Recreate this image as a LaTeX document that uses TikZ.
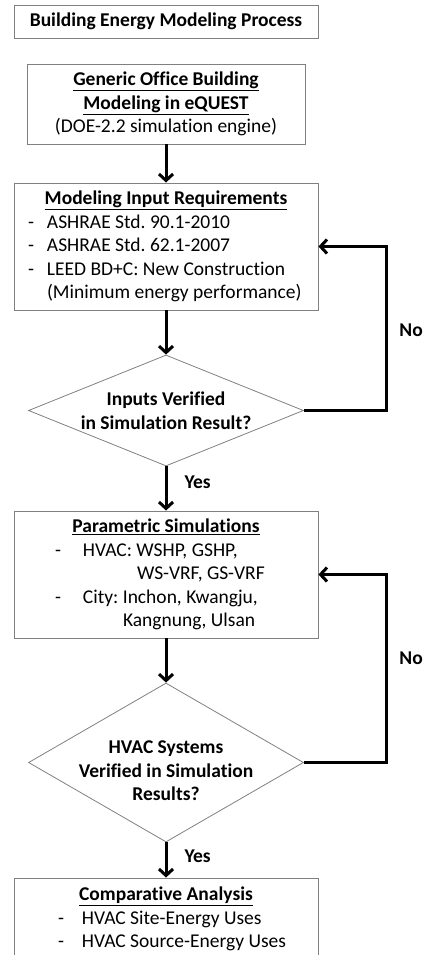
\documentclass[tikz,border=0pt]{standalone}
\usepackage{fontspec}
\setmainfont{Carlito}[Ligatures=NoCommon]
\usetikzlibrary{shapes.geometric,arrows.meta}

\newcommand{\nodefont}{\fontsize{19.5}{23.5}\selectfont\frenchspacing}
\newcommand{\hd}[1]{\underline{\textbf{#1}}}
\newcommand{\dashitem}[2]{\hspace*{#1}\makebox[#2][l]{-}}

\tikzset{
  block/.style={draw=gray, line width=0.9pt, rectangle, minimum width=304pt,
    inner sep=0pt, align=center, font=\nodefont},
  listblock/.style={block, text width=304pt, align=flush left},
  decision/.style={draw=gray, line width=0.8pt, diamond, minimum width=275pt,
    inner sep=-6pt, align=center, font=\nodefont\bfseries},
  flow/.style={line width=3pt, -{Straight Barb[length=6.5pt,width=14pt]}},
  answer/.style={font=\nodefont\bfseries, inner sep=0pt}
}

\begin{document}
\begin{tikzpicture}[x=1pt,y=-1pt]
    \useasboundingbox (0,0) rectangle (423,955);
    \clip (0,0) rectangle (423,955);

    % stages
    \node[block, minimum height=33pt, font=\nodefont\bfseries] (title) at (166,21.5)
      {Building Energy Modeling Process};
    \node[block, minimum width=278pt, minimum height=80pt] (model) at (166,104)
      {\hd{Generic Office Building}\\\hd{Modeling in eQUEST}\\(DOE-2.2 simulation engine)};
    \node[listblock, minimum height=127pt] (inputs) at (166,246.5)
      {{\centering\hd{Modeling Input Requirements}\par}
       \dashitem{14pt}{19pt}ASHRAE Std. 90.1-2010\\
       \dashitem{14pt}{19pt}ASHRAE Std. 62.1-2007\\
       \dashitem{14pt}{19pt}LEED BD+C: New Construction\\
       \hspace*{33pt}(Minimum energy performance)};
    \node[decision, minimum height=111pt, aspect=2.48] (check1) at (166,410.5)
      {Inputs Verified\\in Simulation Result?};
    \node[listblock, minimum height=127pt] (param) at (166,574.5)
      {{\centering\hd{Parametric Simulations}\par}
       \dashitem{41pt}{28pt}HVAC: WSHP, GSHP,\\
       \hspace*{123pt}WS-VRF, GS-VRF\\
       \dashitem{41pt}{28pt}City: Inchon, Kwangju,\\
       \hspace*{109pt}Kangnung, Ulsan};
    \node[decision, minimum height=159pt, aspect=1.73, inner sep=-10pt] (check2) at (166,762.5)
      {\rule{0pt}{30pt}HVAC Systems\\Verified in Simulation\\Results?};
    \node[listblock, minimum height=82pt] (compare) at (166,919)
      {{\centering\hd{Comparative Analysis}\par}
       \dashitem{44pt}{24pt}HVAC Site-Energy Uses\\
       \dashitem{44pt}{24pt}HVAC Source-Energy Uses};

    % connectors
    \draw[flow] (model) -- (inputs);
    \draw[flow] (inputs) -- (check1);
    \draw[flow] (check1) -- node[answer, pos=0.35, right=17pt] {Yes} (param);
    \draw[flow] (check1.east) -- ++(83,0) |- node[answer, pos=0.246, right=11pt] {No} (inputs.east);
    \draw[flow] (param) -- (check2);
    \draw[flow] (check2) -- node[answer, pos=0.4, right=17pt] {Yes} (compare);
    \draw[flow] (check2.east) -- ++(83,0) |- node[answer, pos=0.278, right=11pt] {No} (param.east);
  \end{tikzpicture}
\end{document}
